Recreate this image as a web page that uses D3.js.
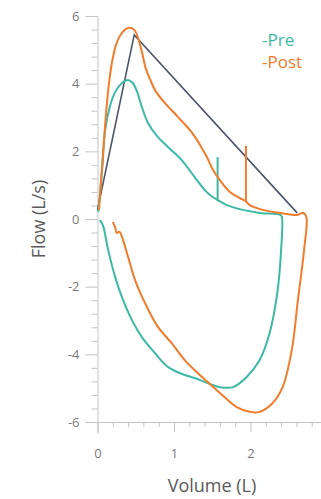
<!DOCTYPE html>
<html>
<head>
<meta charset="utf-8">
<script src="https://cdn.jsdelivr.net/npm/d3@7/dist/d3.min.js"></script>
<style>
  html, body { margin: 0; padding: 0; background: #fff; }
  svg { display: block; }
  text { font-family: "Open Sans", "Noto Sans", sans-serif; }
</style>
</head>
<body>
<svg id="chart" width="321" height="499"></svg>
<script>
// Flow-volume loops, [volume (L), flow (L/s)], traced clockwise:
// expiration (positive flow) then inspiration (negative flow).
const preLoop = [
  [0.01, 0.21], [0.06, 1.45], [0.10, 2.63], [0.16, 3.31], [0.23, 3.75],
  [0.32, 4.02], [0.40, 4.11], [0.46, 4.02], [0.52, 3.75], [0.58, 3.31],
  [0.66, 2.84], [0.79, 2.42], [0.92, 2.13], [1.10, 1.74], [1.27, 1.24],
  [1.40, 0.86], [1.47, 0.71], [1.57, 0.56],
  [1.69, 0.41], [1.90, 0.27], [2.12, 0.18], [2.39, 0.12], [2.41, 0.06],
  [2.40, -0.92], [2.35, -2.19], [2.25, -3.37], [2.12, -4.17], [1.95, -4.67],
  [1.77, -4.97], [1.60, -4.97], [1.44, -4.85], [1.27, -4.70], [1.14, -4.61],
  [0.92, -4.37], [0.75, -3.96], [0.58, -3.49], [0.45, -2.99], [0.32, -2.31],
  [0.23, -1.71], [0.14, -0.92], [0.07, -0.18], [0.03, -0.03]
];
// short flow artefact during expiration
const preSpike = [[1.57, 0.56], [1.57, 1.83]];

const postLoop = [
  [0.02, 0.27], [0.06, 1.54], [0.10, 2.78], [0.14, 3.81], [0.19, 4.64],
  [0.25, 5.20], [0.33, 5.53], [0.41, 5.65], [0.48, 5.59], [0.53, 5.35],
  [0.58, 4.94], [0.63, 4.46], [0.69, 4.11], [0.76, 3.78], [0.88, 3.43],
  [1.05, 3.02], [1.24, 2.54], [1.34, 2.19], [1.43, 1.83], [1.51, 1.45],
  [1.60, 1.15], [1.73, 0.80], [1.86, 0.62], [1.94, 0.52],
  [1.99, 0.41], [2.16, 0.27], [2.39, 0.18], [2.61, 0.12],
  [2.69, 0.18], [2.73, 0.06], [2.70, -0.92], [2.62, -2.39], [2.54, -3.87],
  [2.42, -4.97], [2.29, -5.44], [2.12, -5.70], [1.99, -5.70], [1.82, -5.56],
  [1.60, -5.14], [1.44, -4.82], [1.31, -4.55], [1.14, -4.17], [0.97, -3.67],
  [0.79, -3.19], [0.62, -2.48], [0.49, -1.80], [0.40, -1.12], [0.32, -0.53],
  [0.29, -0.38], [0.25, -0.41], [0.23, -0.24], [0.20, -0.09]
];
const postSpike = [[1.94, 0.52], [1.94, 2.16]];

// Straight-line envelope: start, peak flow, end of expiration
const envelope = [[0.00, 0.27], [0.48, 5.44], [2.61, 0.18]];

const xMajorTicks = [0, 1, 2];
const yMajorTicks = [-6, -4, -2, 0, 2, 4, 6];
const seriesNames = ["-Pre", "-Post"];
const seriesColors = ["#3db9a4", "#f07c2c"];

const svg = d3.select("#chart");
const W = 321, H = 499;
svg.append("rect").attr("width", W).attr("height", H).attr("fill", "#fff");

const x = d3.scaleLinear().domain([0, 3]).range([97.5, 327]);
const y = d3.scaleLinear().domain([-6, 6]).range([422, 16]);

const axisColor = "#c4c4c4";
const labelColor = "#7a7a7a";

// minor ticks
const xMinor = d3.range(0, 3.01, 0.2).filter(v => Math.abs(v - Math.round(v)) > 1e-6);
const yMinor = d3.range(-6, 6.01, 0.4).filter(v => Math.abs(v / 2 - Math.round(v / 2)) > 1e-6);

const gx = svg.append("g").attr("transform", `translate(0,${y(-6)})`);
gx.call(d3.axisBottom(x).tickValues(xMinor).tickSize(5).tickSizeOuter(0).tickFormat(""));
gx.call(g => g.select(".domain").remove());
const gx2 = svg.append("g").attr("transform", `translate(0,${y(-6)})`);
gx2.call(d3.axisBottom(x).tickValues(xMajorTicks).tickSize(10).tickSizeOuter(0).tickPadding(17).tickFormat(d => String(d)));
gx2.select(".domain").attr("d", `M${x(0) - 12},0.5H${W}`);
[gx, gx2].forEach(g => {
  g.selectAll("line").attr("stroke", axisColor);
  g.selectAll(".domain").attr("stroke", axisColor);
  g.selectAll("text").attr("fill", labelColor).style("font-size", "13px");
});

const gy = svg.append("g").attr("transform", `translate(${x(0)},0)`);
gy.call(d3.axisLeft(y).tickValues(yMinor).tickSize(6).tickSizeOuter(0).tickFormat(""));
gy.call(g => g.select(".domain").remove());
const gy2 = svg.append("g").attr("transform", `translate(${x(0)},0)`);
gy2.call(d3.axisLeft(y).tickValues(yMajorTicks).tickSize(12).tickSizeOuter(0).tickPadding(6).tickFormat(d => String(d)));
gy2.select(".domain").attr("d", `M0.5,${y(6)}V${y(-6) + 12}`);
[gy, gy2].forEach(g => {
  g.selectAll("line").attr("stroke", axisColor);
  g.selectAll(".domain").attr("stroke", axisColor);
  g.selectAll("text").attr("fill", labelColor).style("font-size", "13px");
});

// axis titles
svg.append("text")
  .attr("transform", `translate(45,${y(0)}) rotate(-90)`)
  .attr("text-anchor", "middle")
  .attr("fill", "#5a5a5a")
  .style("font-size", "18px")
  .text("Flow (L/s)");

svg.append("text")
  .attr("x", 212).attr("y", 492)
  .attr("text-anchor", "middle")
  .attr("fill", "#5a5a5a")
  .style("font-size", "18px")
  .text("Volume (L)");

// curves
const line = d3.line()
  .x(d => x(d[0]))
  .y(d => y(d[1]))
  .curve(d3.curveCatmullRom.alpha(0.5));
const straight = d3.line().x(d => x(d[0])).y(d => y(d[1]));

svg.append("path")
  .datum(envelope)
  .attr("d", straight)
  .attr("fill", "none")
  .attr("stroke", "#4d5666")
  .attr("stroke-width", 1.6);

[[preLoop, preSpike, seriesColors[0]], [postLoop, postSpike, seriesColors[1]]].forEach(([data, spike, color]) => {
  svg.append("path")
    .datum(data)
    .attr("d", line)
    .attr("fill", "none")
    .attr("stroke", color)
    .attr("stroke-width", 2)
    .attr("stroke-linejoin", "round");
  svg.append("path")
    .datum(spike)
    .attr("d", straight)
    .attr("fill", "none")
    .attr("stroke", color)
    .attr("stroke-width", 2);
});

// legend
seriesNames.forEach((name, i) => {
  svg.append("text")
    .attr("x", 262).attr("y", 46 + i * 22)
    .attr("fill", seriesColors[i])
    .style("font-size", "17px")
    .text(name);
});
</script>
</body>
</html>
